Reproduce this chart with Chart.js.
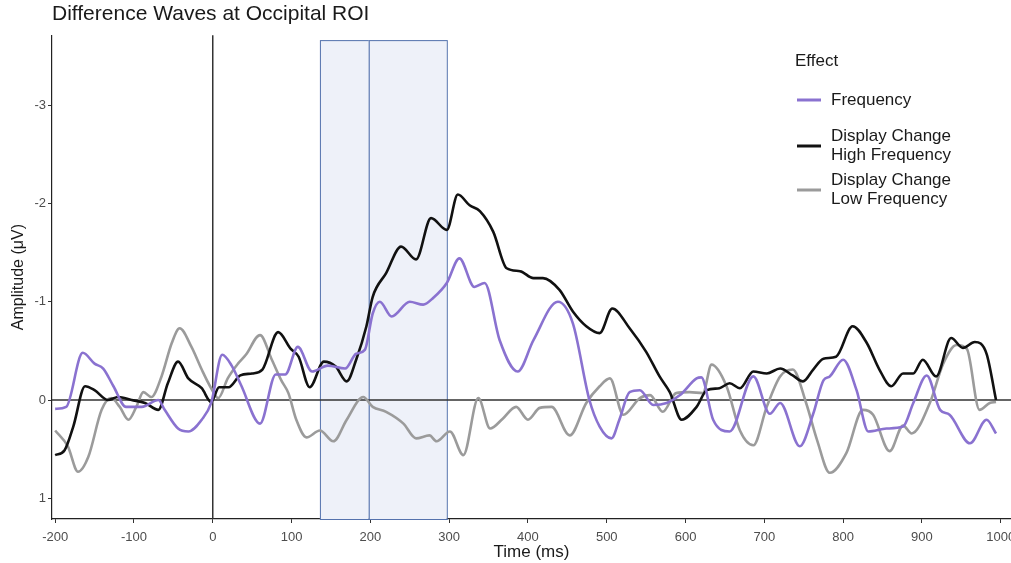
<!DOCTYPE html>
<html>
<head>
<meta charset="utf-8">
<script src="https://cdn.jsdelivr.net/npm/chart.js@4/dist/chart.umd.min.js"></script>
<style>
  body { margin: 0; background: #fff; }
  #wrap { width: 1011px; height: 563px; }
</style>
</head>
<body>
<div id="wrap"><canvas id="waves"></canvas></div>
<script>
// Frequency effect (purple)
var freqTime = [-200, -186, -165, -150, -139, -126, -110, -90, -69, -61, -44, -31, -14, -2,
  12, 24, 36, 60, 80, 92, 108, 126, 146, 168, 182, 193, 203, 212, 227, 250, 267, 280, 297,
  313, 332, 345, 364, 387, 407, 438, 457, 478, 491, 506, 516, 529, 542, 559, 576, 593, 614,
  620, 635, 656, 686, 707, 720, 745, 762, 775, 783, 800, 817, 832, 855, 876, 889, 906, 923,
  935, 961, 982, 994];
var freqAmp = [0.09, 0.07, -0.48, -0.37, -0.32, -0.14, 0.07, 0.07, 0.0, 0.1, 0.29, 0.32, 0.2, 0.03,
  -0.46, -0.35, -0.15, 0.24, -0.26, -0.26, -0.54, -0.29, -0.35, -0.32, -0.47, -0.51, -0.88, -1.0, -0.85, -1.0, -0.97, -1.04, -1.19,
  -1.44, -1.15, -1.19, -0.61, -0.29, -0.61, -1.0, -0.78, 0.0, 0.27, 0.39, 0.2, -0.08, -0.1, 0.05, 0.03, -0.05, -0.22,
  -0.23, 0.2, 0.32, -0.24, 0.14, 0.03, 0.47, 0.14, -0.2, -0.24, -0.41, -0.1, 0.32, 0.29, 0.27, 0.03, -0.25, 0.1,
  0.15, 0.44, 0.2, 0.34];

// Display change, high frequency (black)
var highTime = [-200, -188, -177, -162, -150, -133, -120, -103, -86, -69, -57, -44, -31, -14, -2,
  8, 20, 35, 50, 63, 83, 99, 109, 123, 141, 156, 170, 182, 195, 203, 220, 239, 258, 277, 297,
  311, 326, 339, 356, 373, 390, 407, 419, 440, 457, 474, 491, 507, 529, 550, 567, 580, 595,
  614, 627, 643, 656, 669, 686, 703, 720, 736, 749, 762, 775, 791, 812, 830, 846, 861, 876,
  889, 901, 918, 937, 952, 967, 982, 994];
var highAmp = [0.56, 0.51, 0.27, -0.14, -0.1, 0.0, -0.03, 0.0, 0.03, 0.1, -0.17, -0.39, -0.22, -0.12, 0.02,
  -0.13, -0.13, -0.25, -0.27, -0.31, -0.69, -0.52, -0.44, -0.13, -0.39, -0.34, -0.19, -0.41, -0.75, -1.05, -1.29, -1.56, -1.43, -1.85, -1.73,
  -2.09, -1.98, -1.92, -1.71, -1.34, -1.31, -1.24, -1.24, -1.12, -0.9, -0.75, -0.68, -0.93, -0.73, -0.49, -0.24, -0.08, 0.2,
  0.07, -0.1, -0.12, -0.17, -0.12, -0.29, -0.27, -0.32, -0.25, -0.19, -0.31, -0.42, -0.44, -0.75, -0.58, -0.31, -0.14, -0.27,
  -0.27, -0.41, -0.24, -0.63, -0.53, -0.59, -0.47, 0.0];

// Display change, low frequency (grey)
var lowTime = [-200, -184, -171, -158, -141, -129, -118, -107, -97, -88, -78, -65, -52, -42, -27, -14, -2,
  7, 19, 32, 42, 60, 75, 87, 96, 106, 119, 136, 153, 170, 191, 203, 220, 242, 258, 275, 284,
  301, 318, 337, 352, 368, 385, 400, 415, 430, 453, 474, 491, 504, 521, 542, 555, 571, 588,
  605, 622, 633, 652, 669, 686, 703, 720, 736, 753, 767, 783, 804, 825, 838, 859, 876, 887,
  910, 927, 944, 957, 973, 986, 994];
var lowAmp = [0.31, 0.47, 0.73, 0.58, 0.1, -0.02, 0.07, 0.2, 0.07, -0.08, -0.03, -0.24, -0.58, -0.73, -0.54, -0.31, -0.12,
  -0.02, -0.22, -0.37, -0.46, -0.66, -0.41, -0.2, -0.07, 0.2, 0.38, 0.31, 0.42, 0.2, -0.03, 0.07, 0.12, 0.24, 0.39, 0.36, 0.42,
  0.32, 0.56, -0.02, 0.29, 0.19, 0.07, 0.2, 0.08, 0.07, 0.36, 0.03, -0.14, -0.22, 0.15, -0.02, -0.05, 0.12, -0.07,
  -0.08, -0.07, -0.36, -0.14, 0.31, 0.46, 0.07, -0.24, -0.31, 0.03, 0.41, 0.74, 0.54, 0.1, 0.15, 0.52, 0.26, 0.34,
  0.03, -0.37, -0.56, -0.52, 0.1, 0.03, 0.02];

// shaded analysis windows (ms)
var windowStart = [136, 198];
var windowEnd = [198, 297];

var xTicks = [-200, -100, 0, 100, 200, 300, 400, 500, 600, 700, 800, 900, 1000];
var yTicks = [-3, -2, -1, 0, 1];

var seriesLabels = ['Frequency', 'Display Change\nHigh Frequency', 'Display Change\nLow Frequency'];
var seriesColors = ['#8a72d0', '#111111', '#9b9b9b'];

var FONT = '"Liberation Sans", Arial, sans-serif';
Chart.defaults.font.family = FONT;

var toPoints = (times, amps) => times.map((t, i) => ({ x: t, y: amps[i] }));

var makeDataset = (idx, times, amps) => ({
  label: seriesLabels[idx],
  data: toPoints(times, amps),
  borderColor: seriesColors[idx],
  borderWidth: 2.6,
  pointRadius: 0,
  cubicInterpolationMode: 'monotone',
  fill: false,
});

/** fond : fenetres d'analyse + lignes du zero */
var windowPlugin = {
  id: 'windows',
  beforeDatasetsDraw: chart => {
    const { ctx, chartArea, scales: { x, y } } = chart;
    const top = y.getPixelForValue(-3.66);
    ctx.save();
    windowStart.forEach((start, i) => {
      const left = x.getPixelForValue(start);
      const right = x.getPixelForValue(windowEnd[i]);
      ctx.fillStyle = '#eef1f9';
      ctx.fillRect(left, top, right - left, chartArea.bottom - top);
      ctx.strokeStyle = '#5472ad';
      ctx.lineWidth = 1;
      ctx.strokeRect(left + 0.5, top + 0.5, right - left, chartArea.bottom - top);
    });
    ctx.strokeStyle = '#333';
    ctx.lineWidth = 1.5;
    const zx = x.getPixelForValue(0);
    const zy = y.getPixelForValue(0);
    ctx.beginPath();
    ctx.moveTo(zx, chartArea.top);
    ctx.lineTo(zx, chartArea.bottom);
    ctx.moveTo(chartArea.left, zy);
    ctx.lineTo(chartArea.right, zy);
    ctx.stroke();
    ctx.restore();
  }
};

/** legende a la ggplot, dans le panneau */
var legendPlugin = {
  id: 'effectLegend',
  afterDraw: chart => {
    const ctx = chart.ctx;
    const rows = [100, 146, 190];
    ctx.save();
    ctx.font = '17px ' + FONT;
    ctx.fillStyle = '#1a1a1a';
    ctx.textBaseline = 'middle';
    ctx.fillText('Effect', 795, 61);
    chart.data.datasets.forEach((ds, i) => {
      const lines = ds.label.split('\n');
      const y = rows[i];
      ctx.strokeStyle = ds.borderColor;
      ctx.lineWidth = 3;
      ctx.beginPath();
      ctx.moveTo(797, y);
      ctx.lineTo(821, y);
      ctx.stroke();
      lines.forEach((line, j) => {
        ctx.fillText(line, 831, y + (j - (lines.length - 1) / 2) * 19);
      });
    });
    ctx.restore();
  }
};

new Chart(document.getElementById('waves'), {
  type: 'line',
  data: {
    datasets: [
      makeDataset(0, freqTime, freqAmp),
      makeDataset(1, highTime, highAmp),
      makeDataset(2, lowTime, lowAmp),
    ]
  },
  options: {
    responsive: true,
    maintainAspectRatio: false,
    animation: false,
    layout: { padding: 0 },
    plugins: {
      legend: { display: false },
      tooltip: { enabled: false },
      title: {
        display: true,
        text: 'Difference Waves at Occipital ROI',
        align: 'start',
        fullSize: false,
        color: '#1a1a1a',
        font: { size: 21, weight: 'normal' },
        padding: { top: 2, bottom: 8 },
      },
    },
    scales: {
      x: {
        type: 'linear',
        min: -204,
        max: 1013,
        afterBuildTicks: s => { s.ticks = xTicks.map(v => ({ value: v })); },
        afterFit: s => { s.height = 44; s.paddingLeft = 0; s.paddingRight = 0; },
        grid: { drawOnChartArea: false, drawTicks: true, tickLength: 4, color: '#333' },
        border: { display: true, color: '#222', width: 1.2 },
        ticks: { color: '#4d4d4d', font: { size: 13 }, padding: 7, maxRotation: 0, callback: v => String(v) },
        title: { display: true, text: 'Time (ms)', color: '#1a1a1a', font: { size: 17 }, padding: { top: 0, bottom: 0 } },
      },
      y: {
        type: 'linear',
        reverse: true,
        min: -3.71,
        max: 1.21,
        afterBuildTicks: s => { s.ticks = yTicks.map(v => ({ value: v })); },
        afterFit: s => { s.width = 52; s.paddingTop = 0; s.paddingBottom = 0; },
        grid: { drawOnChartArea: false, drawTicks: true, tickLength: 4, color: '#333' },
        border: { display: true, color: '#222', width: 1.2 },
        ticks: { color: '#4d4d4d', font: { size: 13 }, padding: 2, callback: v => String(v) },
        title: { display: true, text: 'Amplitude (μV)', color: '#1a1a1a', font: { size: 16 }, padding: { top: 9, bottom: 0 } },
      },
    },
  },
  plugins: [windowPlugin, legendPlugin],
});
</script>
</body>
</html>
